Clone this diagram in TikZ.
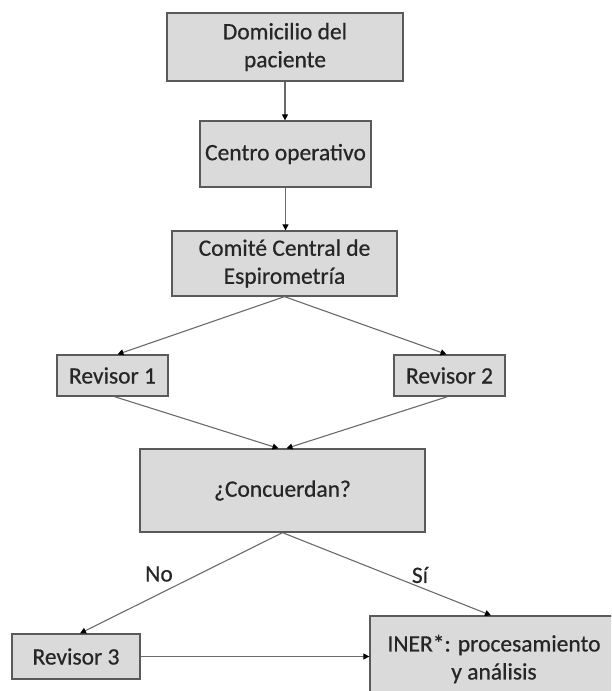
\documentclass[tikz,border=0pt]{standalone}
\usepackage{fontspec}
\setmainfont{Carlito}[FakeBold=0.6]
\usetikzlibrary{arrows.meta,calc}
\definecolor{boxfill}{HTML}{DADADA}
\definecolor{boxline}{HTML}{5A5A5A}
\definecolor{conn}{HTML}{6A6A6A}
\definecolor{txt}{HTML}{262626}
\begin{document}
\begin{tikzpicture}[x=1pt,y=-1pt,
  box/.style={draw=boxline,line width=1.3pt,fill=boxfill,text=txt,align=center,inner sep=0pt,
    font=\fontsize{23.5}{28}\selectfont},
  conn/.style={draw=conn,line width=1.1pt,-{Triangle[width=6pt,length=6pt,color=black]}},
  lbl/.style={text=txt,font=\fontsize{23.5}{28}\selectfont}]
\useasboundingbox (0,0) rectangle (611,691);
\clip (0,0) rectangle (611,691);
\node[box,minimum width=236pt,minimum height=68pt] (dom) at (285,47) {Domicilio del\\paciente};
\node[box,minimum width=171pt,minimum height=66pt] (cen) at (285.5,154) {Centro operativo};
\node[box,minimum width=225pt,minimum height=65pt] (com) at (284.5,263.5) {Comité Central de\\Espirometría};
\node[box,minimum width=111pt,minimum height=41pt] (r1) at (112.5,375.5) {Revisor 1};
\node[box,minimum width=111pt,minimum height=41pt] (r2) at (449.5,375.5) {Revisor 2};
\node[box,minimum width=285pt,minimum height=83pt] (con) at (282.5,490.5) {¿Concuerdan?};
\node[box,minimum width=128pt,minimum height=45pt] (r3) at (76,656.5) {Revisor 3};
\node[box,minimum width=248pt,minimum height=86pt] (iner) at (494,659) {INER*: procesamiento\\y análisis};
\draw[conn] (dom.south) -- (dom.south |- cen.north);
\draw[conn] (cen.south) -- (cen.south |- com.north);
\draw[conn] (com.south) -- ([xshift=5pt]r1.north);
\draw[conn] (com.south) -- ([xshift=-3pt]r2.north);
\draw[conn] ([xshift=2pt]r1.south) -- ([xshift=-4pt]con.north);
\draw[conn] ([xshift=-2pt]r2.south) -- ([xshift=4pt]con.north);
\draw[conn] (con.south) -- ([xshift=4pt]r3.north);
\draw[conn] (con.south) -- ([xshift=-3pt]iner.north);
\draw[conn] (r3.east) -- (r3.east -| iner.west);
\node[lbl] (no) at (159,574) {No};
\node[lbl] (si) at (420,575) {Sí};
\end{tikzpicture}
\end{document}
